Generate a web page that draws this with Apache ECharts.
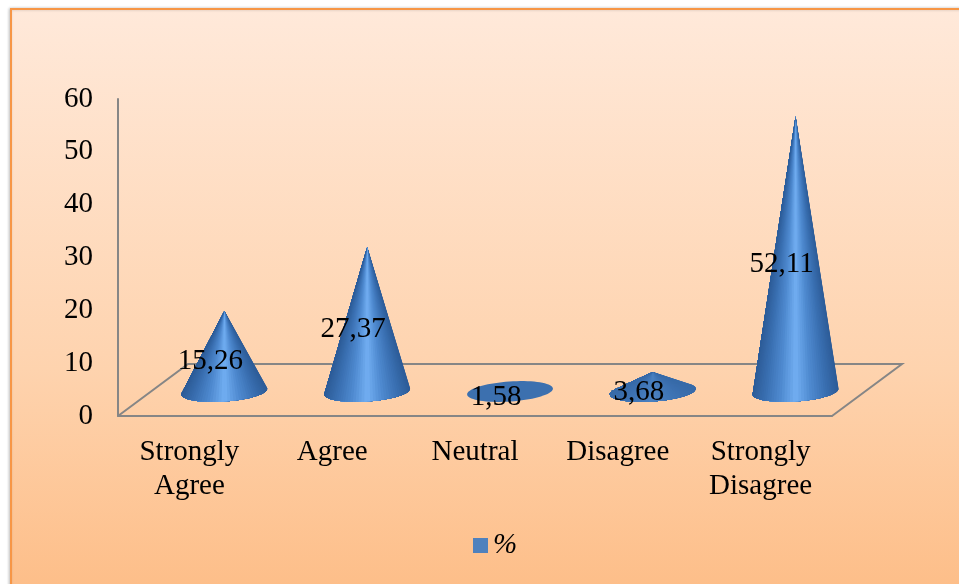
<!DOCTYPE html>
<html>
<head>
<meta charset="utf-8">
<style>html,body{margin:0;padding:0;background:#fff}#chart{width:959px;height:584px}</style>
<script src="https://cdn.jsdelivr.net/npm/echarts@6/dist/echarts.min.js"></script>
</head>
<body>
<div id="chart"></div>
<script>
const categories = ['Strongly\nAgree', 'Agree', 'Neutral', 'Disagree', 'Strongly\nDisagree'];
const percentages = [15.26, 27.37, 1.58, 3.68, 52.11];
const valueTicks = { min: 0, max: 60, interval: 10 };
const seriesName = '%';

const FONT = '"Liberation Serif", "Times New Roman", serif';
const DEPTH = { dx: 70, dy: -52 };        // skew of the floor plane
const CONE = { dx: 35, dy: -24.5, rx: 43, ry: 10, tilt: -4 * Math.PI / 180 };

function hex(c) { return [1, 3, 5].map(i => parseInt(c.substr(i, 2), 16)); }
function mixRgb(a, b, t) {
  return 'rgb(' + a.map((v, i) => Math.round(v + (b[i] - v) * t)).join(',') + ')';
}

// Surface shade of the cone for a normalised horizontal position (-1..1).
const SHADE_STOPS = [[0, '#72aff2'], [0.35, '#4f8ad0'], [0.7, '#3a70b2'], [1, '#2d5c98']];
const FLAT = '#3c70af';
function shade(x, strength) {
  const a = Math.min(1, Math.abs(x));
  let i = 0;
  while (i < SHADE_STOPS.length - 2 && a > SHADE_STOPS[i + 1][0]) i++;
  const [p0, c0] = SHADE_STOPS[i], [p1, c1] = SHADE_STOPS[i + 1];
  const t = (a - p0) / (p1 - p0);
  const A = hex(c0), B = hex(c1);
  const rgb = A.map((v, k) => v + (B[k] - v) * t);
  return mixRgb(hex(FLAT), rgb, strength);
}

function renderFloor(params, api) {
  const r = params.coordSys;
  const x0 = r.x, x1 = r.x + r.width, y = r.y + r.height;
  return {
    type: 'polyline',
    shape: { points: [[x0, y], [x0 + DEPTH.dx, y + DEPTH.dy], [x1 + DEPTH.dx, y + DEPTH.dy], [x1, y]] },
    style: { stroke: '#868686', lineWidth: 2, fill: null }
  };
}

function renderCone(params, api) {
  const value = api.value(1);
  const foot = api.coord([api.value(0), 0]);
  const top = api.coord([api.value(0), value]);
  const cx = foot[0] + CONE.dx, cy = foot[1] + CONE.dy;
  const h = foot[1] - top[1];
  const cos = Math.cos(CONE.tilt), sin = Math.sin(CONE.tilt);
  const onRim = t => {
    const ex = CONE.rx * Math.cos(t), ey = CONE.ry * Math.sin(t);
    return [cx + ex * cos - ey * sin, cy + ex * sin + ey * cos];
  };
  // Tip expressed in the unit-circle space of the base ellipse.
  const ux = (h * sin) / CONE.rx * -1;
  const uy = (-h * cos) / CONE.ry;
  const d = Math.hypot(ux, uy);
  const children = [];
  if (d <= 1) {
    const pts = [];
    for (let i = 0; i < 72; i++) pts.push(onRim(i / 72 * Math.PI * 2));
    children.push({ type: 'polygon', shape: { points: pts }, style: { fill: FLAT } });
  } else {
    const alpha = Math.atan2(uy, ux), beta = Math.acos(1 / d);
    const start = alpha + beta, end = alpha + 2 * Math.PI - beta;
    const strength = Math.min(1, h / 70);
    const tip = [cx, cy - h];
    const N = 48;
    // Each wedge runs on to the far rim, so the next one paints over its edge
    // and no seams show between neighbours.
    for (let i = 0; i < N; i++) {
      const a = start + (end - start) * i / N, b = start + (end - start) * (i + 1) / N;
      const p = onRim(a), q = onRim(b);
      const fan = [tip];
      for (let k = i; k <= N; k++) fan.push(onRim(start + (end - start) * k / N));
      children.push({
        type: 'polygon',
        shape: { points: fan },
        style: { fill: shade(((p[0] + q[0]) / 2 - cx) / CONE.rx, strength) }
      });
    }
  }
  children.push({
    type: 'text',
    x: cx - 14,
    y: cy - h / 2 + 10.5,
    z2: 10,
    style: {
      text: value.toFixed(2).replace('.', ','),
      fontFamily: FONT, fontSize: 29, fill: '#000',
      align: 'center', verticalAlign: 'middle'
    }
  });
  return { type: 'group', children };
}

const chart = echarts.init(document.getElementById('chart'));
chart.setOption({
  animation: false,
  backgroundColor: '#fff',
  textStyle: { fontFamily: FONT },
  graphic: [{
    type: 'rect',
    z: -10,
    shape: { x: 11, y: 9, width: 970, height: 600 },
    style: {
      fill: {
        type: 'linear', x: 0, y: 0, x2: 0, y2: 1,
        colorStops: [
          { offset: 0, color: '#ffe9da' },
          { offset: 0.6, color: '#fed3ae' },
          { offset: 1, color: '#fdbc85' }
        ]
      },
      stroke: '#f79646', lineWidth: 2,
      shadowBlur: 3, shadowColor: 'rgba(0,0,0,0.2)', shadowOffsetX: -1
    }
  }],
  legend: {
    data: [seriesName],
    left: 468, top: 526,
    icon: 'rect', itemWidth: 15, itemHeight: 15, itemGap: 7,
    itemStyle: { color: '#4f81bd' },
    textStyle: { fontFamily: FONT, fontSize: 29, fontStyle: 'italic', color: '#000' }
  },
  grid: { left: 118, top: 99, width: 714, height: 317, containLabel: false },
  xAxis: {
    type: 'category',
    data: categories,
    axisTick: { show: false },
    axisLine: { lineStyle: { color: '#868686', width: 2 } },
    axisLabel: { color: '#000', fontFamily: FONT, fontSize: 29, lineHeight: 34, margin: 19, interval: 0 }
  },
  yAxis: {
    type: 'value',
    min: valueTicks.min, max: valueTicks.max, interval: valueTicks.interval,
    splitLine: { show: false },
    axisTick: { show: false },
    axisLine: { show: true, lineStyle: { color: '#868686', width: 2 } },
    axisLabel: { color: '#000', fontFamily: FONT, fontSize: 29, margin: 25, verticalAlignMinLabel: 'middle', verticalAlignMaxLabel: 'middle', padding: [4, 0, 0, 0] }
  },
  series: [
    {
      type: 'custom', coordinateSystem: 'cartesian2d', silent: true, z: 1,
      renderItem: renderFloor, data: [[0, 0]], encode: { x: 0, y: 1 }
    },
    {
      name: seriesName,
      type: 'custom', coordinateSystem: 'cartesian2d', z: 3,
      itemStyle: { color: '#4f81bd' },
      renderItem: renderCone,
      encode: { x: 0, y: 1 },
      data: percentages.map((v, i) => [i, v])
    }
  ]
});
</script>
</body>
</html>
